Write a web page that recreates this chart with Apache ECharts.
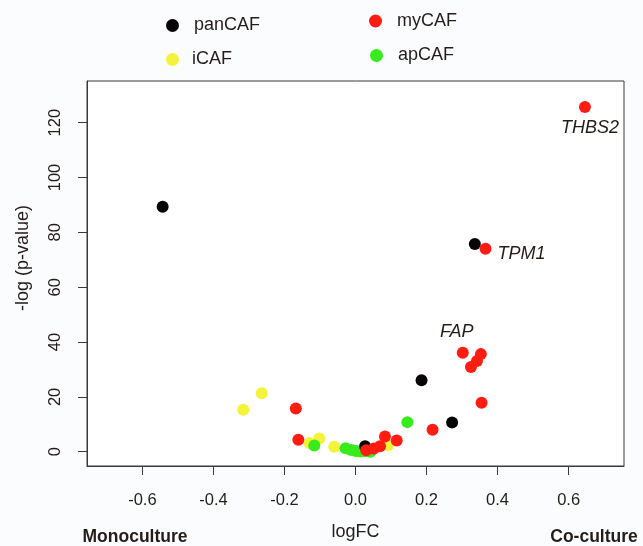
<!DOCTYPE html>
<html>
<head>
<meta charset="utf-8">
<script src="https://cdn.jsdelivr.net/npm/echarts@6/dist/echarts.min.js"></script>
<style>
  html, body { margin: 0; padding: 0; background: #fbfcfe; }
  #chart { width: 643px; height: 546px; }
</style>
</head>
<body>
<div id="chart"></div>
<script>
// Axis ticks
const xTicks = [-0.6, -0.4, -0.2, 0.0, 0.2, 0.4, 0.6];
const yTicks = [0, 20, 40, 60, 80, 100, 120];

// [logFC, -log(p-value)] per gene, grouped by CAF subtype
const iCAF = [
  [-0.264, 21.3], [-0.316, 15.3], [-0.130, 3.2], [-0.102, 4.8],
  [-0.060, 1.8], [0.092, 2.4], [0.005, 0.1]
];
const apCAF = [
  [0.146, 10.8], [-0.116, 2.3], [-0.028, 1.3], [-0.012, 0.6],
  [0.002, 0.3], [0.014, 0.1], [0.026, 0.2], [0.042, 0.0]
];
const panCAF = [
  [-0.543, 89.3], [0.336, 75.8], [0.186, 26.1], [0.272, 10.7], [0.027, 2.0]
];
const myCAF = [
  [0.646, 125.7], [0.366, 74.0], [0.302, 36.1], [0.353, 35.6],
  [0.342, 33.1], [0.325, 30.9], [0.355, 17.9], [0.217, 8.0],
  [-0.168, 15.8], [-0.161, 4.4], [0.030, 0.5], [0.052, 1.2],
  [0.069, 2.0], [0.083, 5.6], [0.116, 4.1]
];
// gene names for the annotated myCAF points (same order as myCAF)
const myCAFGenes = ['THBS2', 'TPM1', 'FAP'];

const legendNames = ['panCAF', 'myCAF', 'iCAF', 'apCAF'];

const colors = {
  panCAF: '#060404',
  myCAF: '#ff1d12',
  iCAF: '#f3f33a',
  apCAF: '#36ec1c'
};

const textColor = '#241d1a';
const fontFamily = '"Liberation Sans", Arial, Helvetica, sans-serif';

// where each gene name sits relative to its point
const geneLabelOffset = {
  THBS2: [5, 21],
  TPM1: [36, 5],
  FAP: [-6, -21]
};

function withGeneLabels(points, genes) {
  return points.map((p, i) => {
    const gene = genes[i];
    if (!gene) return p;
    return {
      value: p,
      label: {
        show: true,
        formatter: gene,
        position: 'inside',
        offset: geneLabelOffset[gene],
        fontStyle: 'italic',
        fontSize: 18,
        fontFamily: fontFamily,
        color: textColor
      }
    };
  });
}

function scatter(name, data) {
  return {
    name: name,
    type: 'scatter',
    symbol: 'circle',
    symbolSize: 12,
    itemStyle: { color: colors[name], opacity: 1 },
    emphasis: { disabled: true },
    data: data
  };
}

// one legend block per entry so each can be placed freely
const legendSpots = {
  panCAF: { left: 166, top: 16.5, pad: [0, 0, 0, 10] },
  myCAF:  { left: 369, top: 12,   pad: [0, 0, 0, 10] },
  iCAF:   { left: 166, top: 47.5, pad: [0, 0, 6, 8] },
  apCAF:  { left: 370, top: 43.5, pad: [0, 0, 6, 10] }
};

const legends = legendNames.map(n => ({
  data: [n],
  left: legendSpots[n].left,
  top: legendSpots[n].top,
  padding: 0,
  itemWidth: 13,
  itemHeight: 13,
  icon: 'circle',
  selectedMode: false,
  textStyle: {
    fontSize: 18,
    fontFamily: fontFamily,
    color: textColor,
    lineHeight: 18,
    padding: legendSpots[n].pad
  }
}));

const chart = echarts.init(document.getElementById('chart'), null, { renderer: 'canvas' });

chart.setOption({
  animation: false,
  backgroundColor: '#fbfcfe',
  legend: legends,
  grid: {
    left: 87, right: 19, top: 81, bottom: 76,
    show: true,
    backgroundColor: '#ffffff',
    borderColor: '#3a3a3a',
    borderWidth: 1
  },
  xAxis: {
    type: 'value',
    min: -0.756,
    max: 0.756,
    splitLine: { show: false },
    axisLine: { show: true, onZero: false, lineStyle: { color: '#3a3a3a', width: 1 } },
    axisTick: {
      show: true, inside: false, length: 9,
      customValues: xTicks,
      lineStyle: { color: '#3a3a3a', width: 1 }
    },
    axisLabel: {
      customValues: xTicks,
      margin: 26,
      fontSize: 16.5,
      fontFamily: fontFamily,
      color: textColor,
      formatter: v => Number(v).toFixed(1)
    },
    name: 'logFC',
    nameLocation: 'middle',
    nameGap: 57,
    nameTextStyle: { fontSize: 18, fontFamily: fontFamily, color: textColor }
  },
  yAxis: {
    type: 'value',
    min: -5.2,
    max: 135.2,
    splitLine: { show: false },
    axisLine: { show: true, onZero: false, lineStyle: { color: '#3a3a3a', width: 1 } },
    axisTick: {
      show: true, inside: false, length: 9,
      customValues: yTicks,
      lineStyle: { color: '#3a3a3a', width: 1 }
    },
    axisLabel: {
      customValues: yTicks,
      rotate: 90,
      margin: 23,
      fontSize: 16.5,
      fontFamily: fontFamily,
      color: textColor,
      formatter: v => String(Math.round(v))
    }
  },
  graphic: [
    {
      type: 'text',
      x: 23, y: 258,
      rotation: Math.PI / 2,
      style: {
        text: '-log (p-value)',
        fontSize: 18,
        fontFamily: fontFamily,
        fill: textColor,
        align: 'center',
        verticalAlign: 'middle'
      }
    },
    {
      type: 'text',
      x: 135, y: 537,
      style: {
        text: 'Monoculture',
        fontSize: 17.5,
        fontWeight: 'bold',
        fontFamily: fontFamily,
        fill: textColor,
        align: 'center',
        verticalAlign: 'middle'
      }
    },
    {
      type: 'text',
      x: 594, y: 537,
      style: {
        text: 'Co-culture',
        fontSize: 17.5,
        fontWeight: 'bold',
        fontFamily: fontFamily,
        fill: textColor,
        align: 'center',
        verticalAlign: 'middle'
      }
    }
  ],
  series: [
    scatter('iCAF', iCAF),
    scatter('apCAF', apCAF),
    scatter('panCAF', panCAF),
    scatter('myCAF', withGeneLabels(myCAF, myCAFGenes))
  ]
});
</script>
</body>
</html>
